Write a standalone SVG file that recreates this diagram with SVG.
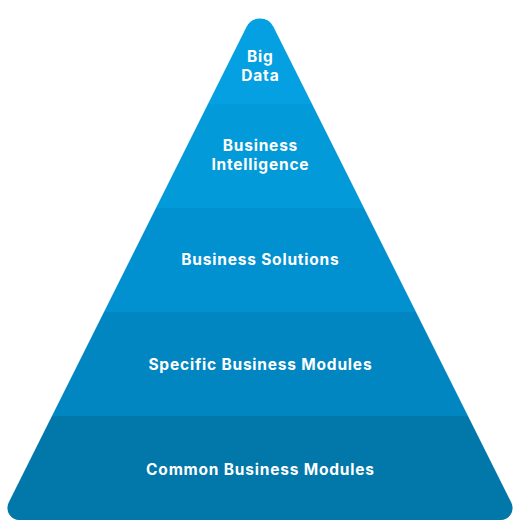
<svg xmlns="http://www.w3.org/2000/svg" width="520" height="520" viewBox="0 0 520 520">
  <defs>
    <clipPath id="pyr">
      <path d="M246.6 26.8 A15 15 0 0 1 273.4 26.8 L511.3 502.6 A12 12 0 0 1 500.6 520 L19.4 520 A12 12 0 0 1 8.7 502.6 Z"/>
    </clipPath>
    <style>
      .lbl { font-family: Inter, "Open Sans", "Liberation Sans", sans-serif; font-weight: 700; font-size: 15.5px; letter-spacing: 0.8px; fill: #ffffff; text-anchor: middle; }
    </style>
  </defs>
  <rect width="520" height="520" fill="#ffffff"/>
  <g clip-path="url(#pyr)">
    <g id="layer-big-data"><rect x="0" y="0" width="520" height="104" fill="#05A0E1"/></g>
    <g id="layer-business-intelligence"><rect x="0" y="104" width="520" height="104" fill="#039AD9"/></g>
    <g id="layer-business-solutions"><rect x="0" y="208" width="520" height="104" fill="#0291D0"/></g>
    <g id="layer-specific-business-modules"><rect x="0" y="312" width="520" height="104" fill="#0186C2"/></g>
    <g id="layer-common-business-modules"><rect x="0" y="416" width="520" height="105" fill="#0177AA"/></g>
  </g>
  <g id="labels">
    <text class="lbl" x="260.4" y="62">Big</text>
    <text class="lbl" x="260.4" y="81">Data</text>
    <text class="lbl" x="260.4" y="150.5">Business</text>
    <text class="lbl" x="260.4" y="169.5">Intelligence</text>
    <text class="lbl" x="260.4" y="265">Business Solutions</text>
    <text class="lbl" x="260.4" y="370">Specific Business Modules</text>
    <text class="lbl" x="260.4" y="475">Common Business Modules</text>
  </g>
</svg>
